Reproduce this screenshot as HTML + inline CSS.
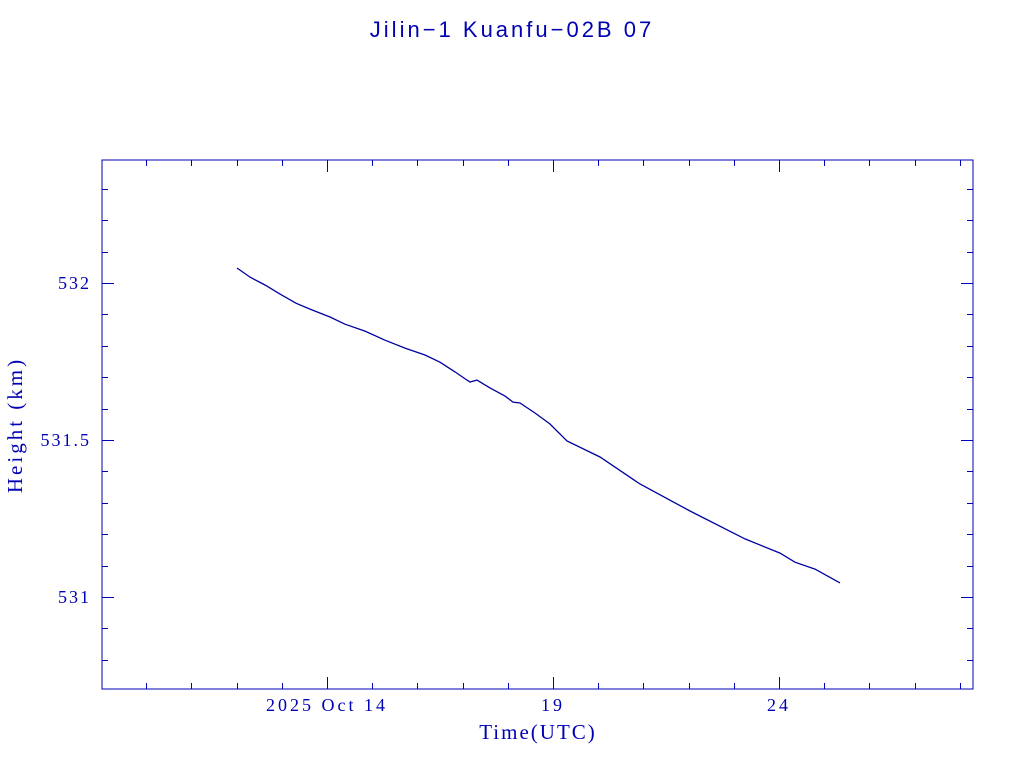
<!DOCTYPE html>
<html><head><meta charset="utf-8"><style>
html,body{margin:0;padding:0;background:#fff;}
svg{display:block;}
text{fill:#0000b4;font-family:"Liberation Serif",serif;}
</style></head><body>
<svg id="chart" width="1024" height="768" xmlns="http://www.w3.org/2000/svg">
<text x="512" y="37" text-anchor="middle" font-size="22" style="font-family:'Liberation Sans',sans-serif;letter-spacing:3px">Jilin−1 Kuanfu−02B 07</text>
<rect x="102" y="160" width="871" height="529" fill="none" stroke="#0000b4" stroke-width="1"/>
<g id="ticks"></g>
<g id="labels"></g>
<path id="line" fill="none" stroke="#0000a0" stroke-width="1.3"/>
<text x="538" y="739" text-anchor="middle" font-size="21" style="letter-spacing:2px">Time(UTC)</text>
<text transform="translate(22,425) rotate(-90)" text-anchor="middle" font-size="21" style="letter-spacing:3px">Height (km)</text>
</svg>
<script>
const days=[12.009,12.296,12.628,12.960,13.314,13.624,14.066,14.398,14.841,15.283,15.726,16.168,16.500,16.832,17.097,17.164,17.319,17.606,17.938,18.115,18.270,18.602,18.934,19.310,20.040,20.925,22.031,23.248,24.022,24.354,24.796,25.350];
const heights=[532.048,532.019,531.994,531.965,531.936,531.917,531.892,531.869,531.847,531.818,531.793,531.771,531.748,531.717,531.691,531.685,531.691,531.666,531.640,531.621,531.618,531.586,531.551,531.497,531.446,531.360,531.274,531.185,531.140,531.111,531.089,531.045];
const xMajorTicks=[14,19,24];
const xTickLabels=["2025 Oct 14","19","24"];
const yMajorTicks=[531,531.5,532];
const yTickLabels=["531","531.5","532"];
const L=102,R=973,T=160,B=689;
const X0=9.0221,X1=28.292,Y0=530.707,Y1=532.392;
const sx=d=>L+(d-X0)/(X1-X0)*(R-L);
const sy=h=>B-(h-Y0)/(Y1-Y0)*(B-T);
const NS="http://www.w3.org/2000/svg";
const tg=document.getElementById('ticks'),lg=document.getElementById('labels');
function ln(x1,y1,x2,y2,name){const e=document.createElementNS(NS,'line');
e.setAttribute('x1',x1);e.setAttribute('y1',y1);e.setAttribute('x2',x2);e.setAttribute('y2',y2);
e.setAttribute('stroke','#0000b4');e.setAttribute('stroke-width','1');


tg.appendChild(e);}
for(let d=Math.ceil(X0);d<=X1;d++){const x=Math.round(sx(d))+0.5;const len=xMajorTicks.includes(d)?12:6;
ln(x,B,x,B-len,'x-tick');ln(x,T,x,T+len,'x-tick-top');}
for(let k=Math.ceil(Y0*10);k<=Y1*10;k++){const h=k/10;const y=Math.round(sy(h))+0.5;const len=(k%5===0)?12:6;
ln(L,y,L+len,y,'y-tick');ln(R,y,R-len,y,'y-tick-right');}
xMajorTicks.forEach((d,i)=>{const t=document.createElementNS(NS,'text');
t.setAttribute('x',sx(d));t.setAttribute('y',B+22);t.setAttribute('text-anchor','middle');t.setAttribute('font-size','18');
t.setAttribute('style','letter-spacing:3px');
t.textContent=xTickLabels[i];


lg.appendChild(t);});
yMajorTicks.forEach((h,i)=>{const t=document.createElementNS(NS,'text');
t.setAttribute('x',91);t.setAttribute('y',sy(h)+6);t.setAttribute('text-anchor','end');t.setAttribute('font-size','18');
t.setAttribute('style','letter-spacing:2px');
t.textContent=yTickLabels[i];


lg.appendChild(t);});
document.getElementById('line').setAttribute('d',days.map((d,i)=>(i?'L':'M')+sx(d).toFixed(1)+','+sy(heights[i]).toFixed(1)).join(' '));
</script>
</body></html>
